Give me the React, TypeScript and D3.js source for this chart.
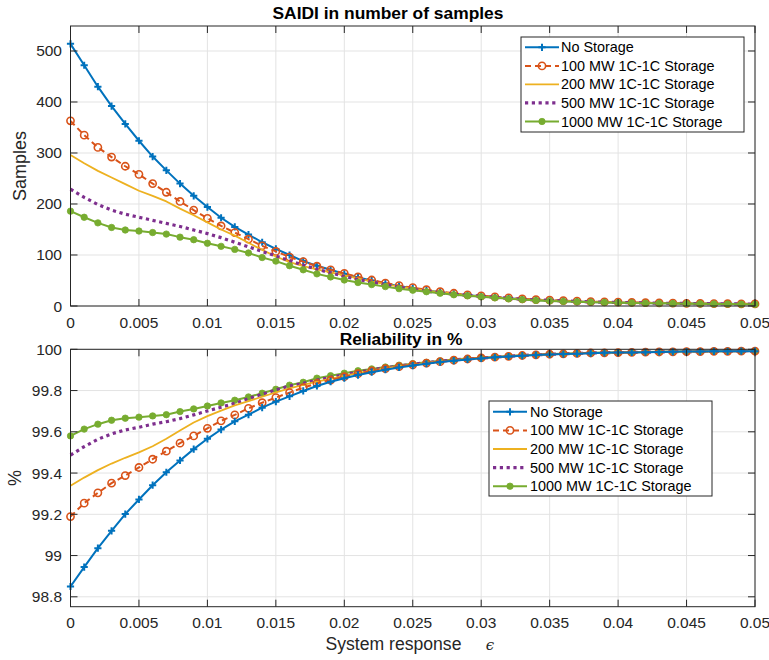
import React from "react";
import * as d3 from "d3";

const EPS = [0, 0.001, 0.002, 0.003, 0.004, 0.005, 0.006, 0.007, 0.008, 0.009,
  0.01, 0.011, 0.012, 0.013, 0.014, 0.015, 0.016, 0.017, 0.018, 0.019,
  0.02, 0.021, 0.022, 0.023, 0.024, 0.025, 0.026, 0.027, 0.028, 0.029,
  0.03, 0.031, 0.032, 0.033, 0.034, 0.035, 0.036, 0.037, 0.038, 0.039,
  0.04, 0.041, 0.042, 0.043, 0.044, 0.045, 0.046, 0.047, 0.048, 0.049, 0.05];

const SERIES_NAMES = ["No Storage", "100 MW 1C-1C Storage", "200 MW 1C-1C Storage", "500 MW 1C-1C Storage", "1000 MW 1C-1C Storage"];

// SAIDI (samples)
const SAIDI_NONE = [514, 472, 430, 392, 357, 324, 293, 266, 240, 216,
  194, 173, 155, 140, 125, 112, 100, 88, 79, 71,
  63, 56, 50, 44, 39, 35, 31, 27, 24, 21,
  19, 17, 15, 13, 12, 11, 10, 9, 8, 7.5,
  7, 6.5, 6, 5.5, 5.2, 5, 4.7, 4.4, 4.2, 4, 3.8];
const SAIDI_100 = [363, 335, 311, 292, 274, 258, 240, 223, 205, 188,
  172, 157, 144, 131, 118, 107, 96, 87, 78, 71,
  64, 57, 51, 45, 40, 36, 32, 28, 25, 22,
  20, 18, 16, 14, 12.5, 11.5, 10.5, 9.5, 8.5, 8,
  7.5, 7, 6.5, 6, 5.6, 5.3, 5, 4.7, 4.5, 4.3, 4.1];
const SAIDI_200 = [296, 280, 265, 252, 239, 226, 216, 205, 191, 178,
  164, 150, 138, 124, 110, 97, 86, 78, 72, 66,
  60, 54, 48, 43, 38, 34, 30, 27, 24, 21,
  19, 17, 15, 13, 12, 11, 10, 9, 8, 7.5,
  7, 6.5, 6, 5.5, 5.2, 5, 4.7, 4.4, 4.2, 4, 3.8];
const SAIDI_500 = [229, 213, 199, 188, 180, 174, 168, 162, 156, 149,
  142, 134, 125, 116, 107, 98, 89, 80, 72, 65,
  58, 52, 47, 42, 37, 33, 29, 26, 23, 21,
  19, 17, 15, 13, 12, 11, 10, 9, 8, 7.5,
  7, 6.5, 6, 5.5, 5.2, 5, 4.7, 4.4, 4.2, 4, 3.8];
const SAIDI_1000 = [186, 174, 163, 154, 149, 147, 144, 141, 135, 130,
  123, 117, 111, 104, 95, 88, 79, 71, 63, 57,
  51, 46, 42, 38, 34, 31, 28, 25, 22, 20,
  18, 16, 14, 12.5, 11, 10, 9, 8.2, 7.5, 7,
  6.5, 6, 5.5, 5.2, 4.9, 4.6, 4.3, 4, 3.8, 3.6, 3.4];

// Reliability (%)
const REL_NONE = [98.850, 98.944, 99.036, 99.120, 99.201, 99.272, 99.341, 99.404, 99.461, 99.516,
  99.566, 99.611, 99.651, 99.683, 99.717, 99.746, 99.772, 99.798, 99.822, 99.843,
  99.860, 99.875, 99.889, 99.901, 99.912, 99.921, 99.930, 99.938, 99.945, 99.951,
  99.956, 99.961, 99.965, 99.969, 99.972, 99.975, 99.977, 99.979, 99.981, 99.983,
  99.984, 99.985, 99.986, 99.987, 99.988, 99.989, 99.989, 99.990, 99.990, 99.991, 99.991];
const REL_100 = [99.189, 99.254, 99.304, 99.351, 99.388, 99.427, 99.467, 99.506, 99.545, 99.580,
  99.617, 99.653, 99.682, 99.714, 99.741, 99.766, 99.790, 99.814, 99.835, 99.851,
  99.867, 99.882, 99.895, 99.906, 99.916, 99.925, 99.933, 99.940, 99.947, 99.953,
  99.958, 99.962, 99.966, 99.970, 99.973, 99.976, 99.978, 99.980, 99.982, 99.983,
  99.984, 99.985, 99.986, 99.987, 99.988, 99.989, 99.989, 99.990, 99.990, 99.991, 99.991];
const REL_200 = [99.338, 99.378, 99.414, 99.446, 99.474, 99.500, 99.530, 99.566, 99.606, 99.645,
  99.676, 99.703, 99.728, 99.749, 99.770, 99.791, 99.810, 99.827, 99.843, 99.857,
  99.871, 99.885, 99.897, 99.908, 99.918, 99.926, 99.934, 99.941, 99.948, 99.954,
  99.957, 99.962, 99.966, 99.970, 99.973, 99.976, 99.978, 99.980, 99.982, 99.983,
  99.984, 99.985, 99.986, 99.987, 99.988, 99.989, 99.989, 99.990, 99.990, 99.991, 99.991];
const REL_500 = [99.487, 99.528, 99.564, 99.590, 99.609, 99.622, 99.637, 99.649, 99.664, 99.682,
  99.701, 99.719, 99.738, 99.761, 99.782, 99.803, 99.822, 99.835, 99.851, 99.864,
  99.877, 99.889, 99.900, 99.910, 99.919, 99.927, 99.935, 99.942, 99.948, 99.954,
  99.957, 99.962, 99.966, 99.970, 99.973, 99.976, 99.978, 99.980, 99.982, 99.983,
  99.984, 99.985, 99.986, 99.987, 99.988, 99.989, 99.989, 99.990, 99.990, 99.991, 99.991];
const REL_1000 = [99.580, 99.613, 99.637, 99.656, 99.666, 99.671, 99.677, 99.683, 99.698, 99.711,
  99.725, 99.740, 99.753, 99.769, 99.787, 99.806, 99.826, 99.840, 99.860, 99.872,
  99.884, 99.896, 99.905, 99.914, 99.923, 99.930, 99.937, 99.944, 99.950, 99.955,
  99.959, 99.963, 99.967, 99.971, 99.974, 99.977, 99.979, 99.981, 99.983, 99.984,
  99.985, 99.986, 99.987, 99.988, 99.989, 99.990, 99.990, 99.991, 99.991, 99.992, 99.992];

const X_TICKS = [0, 0.005, 0.01, 0.015, 0.02, 0.025, 0.03, 0.035, 0.04, 0.045, 0.05];
const SAIDI_TICKS = [0, 100, 200, 300, 400, 500];
const REL_TICKS = [98.8, 99, 99.2, 99.4, 99.6, 99.8, 100];

const COLORS = ["#0072BD", "#D95319", "#EDB120", "#7E2F8E", "#77AC30"];
const FONT = "'Liberation Sans', Arial, Helvetica, sans-serif";
const AX = "#262626";
const GRID = "#e3e3e3";

type StyleDef = { dash?: string; width: number; marker?: "plus" | "circle" | "dot"; cap?: string };
const STYLES: StyleDef[] = [
  { width: 2, marker: "plus" },
  { width: 2, dash: "6 4", marker: "circle" },
  { width: 1.8 },
  { width: 3.2, dash: "3.2 3.6" },
  { width: 2, marker: "dot" },
];

function Marker({ kind, x, y, color }: { kind?: string; x: number; y: number; color: string }) {
  if (kind === "plus")
    return <path d={`M${x - 3.6},${y}H${x + 3.6}M${x},${y - 3.6}V${y + 3.6}`} stroke={color} strokeWidth={2} fill="none" />;
  if (kind === "circle")
    return <circle cx={x} cy={y} r={3.6} fill="none" stroke={color} strokeWidth={1.6} />;
  if (kind === "dot")
    return <circle cx={x} cy={y} r={3.2} fill={color} stroke={color} strokeWidth={0.8} />;
  return null;
}

type PanelProps = {
  top: number; bottom: number;
  yDomain: [number, number]; yTicks: number[]; yFmt: (d: number) => string;
  series: number[][]; order: number[];
  title: string; titleX: number; titleY: number;
  yLabel: string; yLabelX: number;
  legend: { x0: number; x1: number; y0: number; y1: number; rows: number[]; lx0: number; lx1: number; tx: number };
};

const LEFT = 70.5, RIGHT = 755;

function Panel(p: PanelProps) {
  const x = d3.scaleLinear().domain([0, 0.05]).range([LEFT, RIGHT]);
  const y = d3.scaleLinear().domain(p.yDomain).range([p.bottom, p.top]);
  const line = d3.line<number>().x((_, i) => x(EPS[i])).y((d) => y(d));
  const tl = 7;
  const xf = (d: number) => String(+d.toFixed(3));
  return (
    <g>
      {/* grid */}
      {X_TICKS.map((t) => (
        <line key={"gx" + t} x1={x(t)} x2={x(t)} y1={p.top} y2={p.bottom} stroke={GRID} strokeWidth={1} />
      ))}
      {p.yTicks.map((t) => (
        <line key={"gy" + t} x1={LEFT} x2={RIGHT} y1={y(t)} y2={y(t)} stroke={GRID} strokeWidth={1} />
      ))}
      {/* series */}
      {p.order.map((si) => {
        const st = STYLES[si];
        const data = p.series[si];
        return (
          <g key={"s" + si}>
            <path d={line(data) || ""} fill="none" stroke={COLORS[si]} strokeWidth={st.width}
              strokeDasharray={st.dash} strokeLinejoin="round" />
            {st.marker && data.map((v, i) => (
              <Marker key={i} kind={st.marker} x={x(EPS[i])} y={y(v)} color={COLORS[si]} />
            ))}
          </g>
        );
      })}
      {/* box + ticks */}
      <rect x={LEFT} y={p.top} width={RIGHT - LEFT} height={p.bottom - p.top} fill="none" stroke={AX} strokeWidth={1} />
      {X_TICKS.map((t) => (
        <g key={"tx" + t}>
          <line x1={x(t)} x2={x(t)} y1={p.bottom} y2={p.bottom - tl} stroke={AX} strokeWidth={1} />
          <line x1={x(t)} x2={x(t)} y1={p.top} y2={p.top + tl} stroke={AX} strokeWidth={1} />
          <text x={x(t)} y={p.bottom + 16} textAnchor="middle" dominantBaseline="central"
            fontSize={15.5} fill={AX} fontFamily={FONT}>{xf(t)}</text>
        </g>
      ))}
      {p.yTicks.map((t) => (
        <g key={"ty" + t}>
          <line x1={LEFT} x2={LEFT + tl} y1={y(t)} y2={y(t)} stroke={AX} strokeWidth={1} />
          <line x1={RIGHT} x2={RIGHT - tl} y1={y(t)} y2={y(t)} stroke={AX} strokeWidth={1} />
          <text x={62} y={y(t)} textAnchor="end" dominantBaseline="central"
            fontSize={15.5} fill={AX} fontFamily={FONT}>{p.yFmt(t)}</text>
        </g>
      ))}
      {/* title */}
      <text x={p.titleX} y={p.titleY} textAnchor="middle" fontSize={17.4} fontWeight="bold" fill="#000" fontFamily={FONT}>{p.title}</text>
      {/* y label */}
      <text transform={`translate(${p.yLabelX},${(p.top + p.bottom) / 2}) rotate(-90)`} textAnchor="middle"
        dominantBaseline="central" fontSize={18} fill={AX} fontFamily={FONT}>{p.yLabel}</text>
      {/* legend */}
      <rect x={p.legend.x0} y={p.legend.y0} width={p.legend.x1 - p.legend.x0} height={p.legend.y1 - p.legend.y0}
        fill="#fff" stroke={AX} strokeWidth={1} />
      {SERIES_NAMES.map((name, i) => {
        const ry = p.legend.rows[i];
        const st = STYLES[i];
        const mx = (p.legend.lx0 + p.legend.lx1) / 2;
        return (
          <g key={"lg" + i}>
            <line x1={p.legend.lx0} x2={p.legend.lx1} y1={ry} y2={ry} stroke={COLORS[i]} strokeWidth={st.width}
              strokeDasharray={st.dash} />
            {st.marker && <Marker kind={st.marker} x={mx} y={ry} color={COLORS[i]} />}
            <text x={p.legend.tx} y={ry} dominantBaseline="central" fontSize={14.4} fill="#000" fontFamily={FONT}>{name}</text>
          </g>
        );
      })}
    </g>
  );
}

export default function App() {
  const saidi = [SAIDI_NONE, SAIDI_100, SAIDI_200, SAIDI_500, SAIDI_1000];
  const rel = [REL_NONE, REL_100, REL_200, REL_500, REL_1000];
  return (
    <svg width={769} height={660} style={{ position: "absolute", left: 0, top: 0, background: "#fff" }}>
      <rect width={769} height={660} fill="#fff" />
      <Panel top={26} bottom={306} yDomain={[0, 549]} yTicks={SAIDI_TICKS} yFmt={(d) => String(d)}
        series={saidi} order={[0, 1, 2, 3, 4]}
        title="SAIDI in number of samples" titleX={388} titleY={19}
        yLabel="Samples" yLabelX={20}
        legend={{ x0: 521, x1: 744, y0: 37, y1: 132, rows: [47.3, 65.9, 84.4, 102.9, 121.5], lx0: 525, lx1: 559, tx: 561 }} />
      <Panel top={349.3} bottom={606.7} yDomain={[98.752, 100]} yTicks={REL_TICKS} yFmt={(d) => String(+d.toFixed(1))}
        series={rel} order={[4, 3, 2, 1, 0]}
        title="Reliability in %" titleX={401} titleY={345}
        yLabel="%" yLabelX={15}
        legend={{ x0: 489, x1: 712, y0: 401, y1: 496, rows: [411.8, 430.4, 449, 467.6, 486.2], lx0: 493, lx1: 527, tx: 530 }} />
      <text x={393.5} y={650} textAnchor="middle" fontSize={17.6} fill={AX} fontFamily={FONT}>System response</text>
      <text x={490} y={650} textAnchor="middle" fontSize={15} fontStyle="italic" fill={AX} fontFamily="'DejaVu Serif', serif">ϵ</text>
    </svg>
  );
}
